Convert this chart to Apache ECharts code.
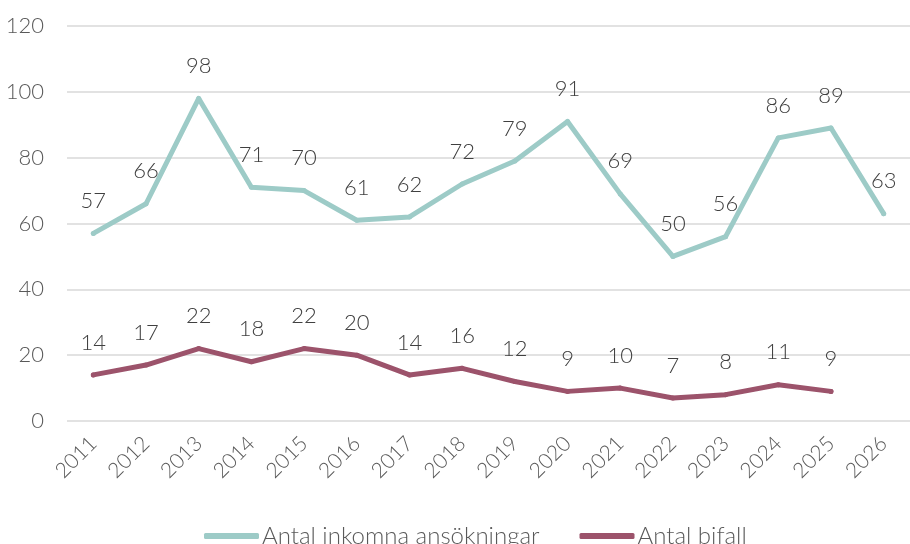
<!DOCTYPE html>
<html>
<head>
<meta charset="utf-8">
<script src="https://cdn.jsdelivr.net/npm/echarts@6/dist/echarts.min.js"></script>
<style>
  html, body { margin: 0; padding: 0; background: #fff; }
  #chart { width: 910px; height: 544px; }
</style>
</head>
<body>
<div id="chart"></div>
<script>
// år på x-axeln
var years = ['2011', '2012', '2013', '2014', '2015', '2016', '2017', '2018',
             '2019', '2020', '2021', '2022', '2023', '2024', '2025', '2026'];

// antal inkomna ansökningar per år
var inkomna = [57, 66, 98, 71, 70, 61, 62, 72, 79, 91, 69, 50, 56, 86, 89, 63];

// antal bifall per år (2026 saknas)
var bifall = [14, 17, 22, 18, 22, 20, 14, 16, 12, 9, 10, 7, 8, 11, 9, null];

var FONT = 'Lato';
var textGrey = '#595959';

var dom = document.getElementById('chart');
var myChart = echarts.init(dom, null, { renderer: 'canvas' });

// gemensam etikettstil för datapunkter
var pointLabel = {
    show: true,
    position: 'top',
    distance: 19,
    fontSize: 22,
    color: '#404040',
    fontFamily: FONT,
    fontWeight: 300
};

var option = {
    animation: false,
    backgroundColor: '#ffffff',
    textStyle: { fontFamily: FONT, fontWeight: 300 },
    grid: {
        left: 67,
        top: 26,
        width: 856,
        height: 395,
        containLabel: false
    },
    legend: {
        top: 519,
        left: 199,
        icon: 'roundRect',
        itemWidth: 55,
        itemHeight: 6,
        itemGap: 40,
        textStyle: { fontSize: 24, color: textGrey, fontFamily: FONT, fontWeight: 300, padding: [0, 0, 0, -2] },
        data: ['Antal inkomna ansökningar', 'Antal bifall']
    },
    xAxis: {
        type: 'category',
        data: years,
        boundaryGap: true,
        axisLine: { show: false },
        axisTick: { show: false },
        axisLabel: {
            rotate: 45,
            margin: 19,
            fontSize: 21,
            color: textGrey,
            fontFamily: FONT,
            fontWeight: 300
        }
    },
    yAxis: {
        type: 'value',
        min: 0,
        max: 120,
        interval: 20,
        axisLine: { show: false },
        axisTick: { show: false },
        splitLine: { lineStyle: { color: '#d9d9d9', width: 1.5 } },
        axisLabel: {
            margin: 23,
            fontSize: 22,
            color: textGrey,
            fontFamily: FONT,
            fontWeight: 300
        }
    },
    series: [
        {
            name: 'Antal inkomna ansökningar',
            type: 'line',
            data: inkomna,
            color: '#9dcbc7',
            symbol: 'circle',
            symbolSize: 5,
            showSymbol: true,
            lineStyle: { width: 5, cap: 'round', join: 'round' },
            label: pointLabel
        },
        {
            name: 'Antal bifall',
            type: 'line',
            data: bifall,
            color: '#9c536b',
            symbol: 'circle',
            symbolSize: 5,
            showSymbol: true,
            lineStyle: { width: 5, cap: 'round', join: 'round' },
            label: pointLabel
        }
    ]
};

myChart.setOption(option, true);
</script>
</body>
</html>
